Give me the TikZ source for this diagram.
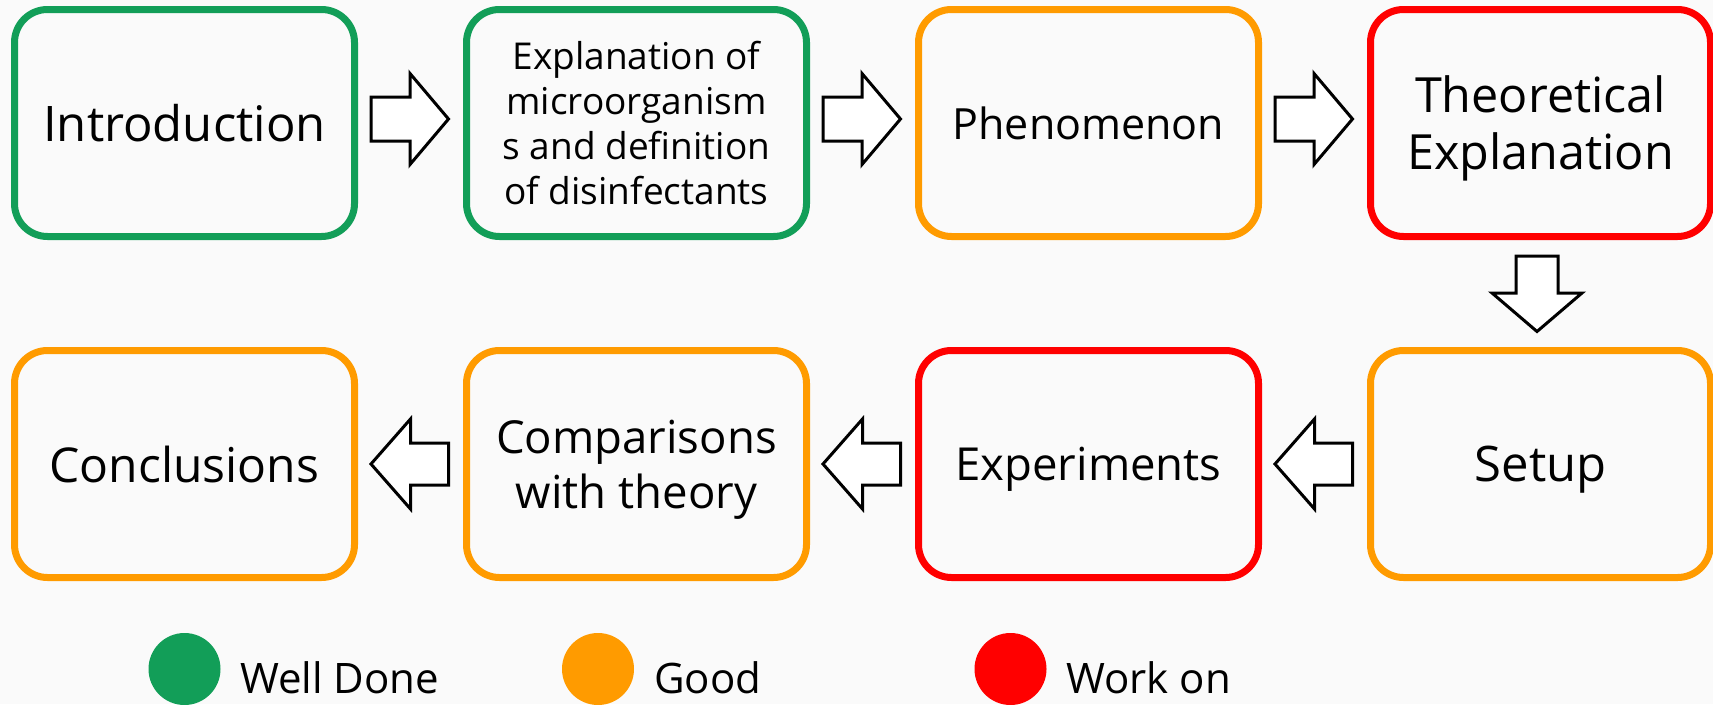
\documentclass[tikz,border=0pt]{standalone}
\usepackage{fontspec}
\setmainfont{Open Sans}
\definecolor{cgreen}{RGB}{18,158,88}
\definecolor{corange}{RGB}{255,155,0}
\definecolor{cred}{RGB}{255,0,0}
\definecolor{bgc}{RGB}{250,250,250}
\begin{document}
\begin{tikzpicture}[x=1pt,y=-1pt,
  stage/.style={draw, line width=7pt, rounded corners=33pt, minimum width=340pt,
    minimum height=227pt, align=center, inner sep=0pt, outer sep=0pt, text=black},
  flowarrow/.style={draw=black, line width=3pt, fill=white, line join=miter},
  legdot/.style={circle, minimum size=72pt, inner sep=0pt},
  legtext/.style={anchor=base west, inner sep=0pt, font=\fontsize{42}{50}\selectfont}]
\fill[bgc] (0,0) rectangle (1713,704);
\useasboundingbox (0,0) rectangle (1713,704);

% row 1
\node[stage, draw=cgreen, font=\fontsize{49}{57}\selectfont] (intro) at (184.5,123) {Introduction};
\node[stage, draw=cgreen, font=\fontsize{37}{45}\selectfont] (expl) at (636.5,123) {Explanation of\\microorganism\\s and definition\\of disinfectants};
\node[stage, draw=corange, font=\fontsize{43}{50}\selectfont] (phen) at (1088.5,123) {Phenomenon};
\node[stage, draw=cred, font=\fontsize{48.5}{57}\selectfont] (theo) at (1540.5,123) {Theoretical\\\smash{Explanation}};

% row 2
\node[stage, draw=corange, font=\fontsize{48}{57}\selectfont] (concl) at (184.5,464) {Conclusions};
\node[stage, draw=corange, font=\fontsize{45.5}{55}\selectfont] (comp) at (636.5,464) {Comparisons\\\smash{with theory}};
\node[stage, draw=cred, text depth=0pt, font=\fontsize{45.5}{52}\selectfont] (exper) at (1088.5,464) {Experiments};
\node[stage, draw=corange, text depth=0pt, font=\fontsize{49}{57}\selectfont] (setup) at (1540.5,464) {Setup};

% right arrows
\foreach \a in {intro,expl,phen}{
  \begin{scope}[shift={(\a.east)}]
    \draw[flowarrow] (16.5,-26)--(55.5,-26)--(55.5,-49.5)--(94,-4)--(55.5,41.5)--(55.5,18)--(16.5,18)--cycle;
  \end{scope}
}
% down arrow
\begin{scope}[shift={(theo.south)}]
  \draw[flowarrow] (-24.5,19.5)--(17.5,19.5)--(17.5,56.5)--(41.5,56.5)--(-3.5,95)--(-48.5,56.5)--(-24.5,56.5)--cycle;
\end{scope}
% left arrows
\foreach \a in {comp,exper,setup}{
  \begin{scope}[shift={(\a.west)}]
    \draw[flowarrow] (-18,-21)--(-56,-21)--(-56,-45)--(-95.5,0)--(-56,45)--(-56,21)--(-18,21)--cycle;
  \end{scope}
}

% legend
\node[legdot, fill=cgreen] (l1) at (184.5,669) {};
\node[legtext] (t1) at (240,693) {Well Done};
\node[legdot, fill=corange] (l2) at (598,669) {};
\node[legtext] (t2) at (654,693) {Good};
\node[legdot, fill=cred] (l3) at (1010.5,669) {};
\node[legtext] (t3) at (1066,693) {Work on};
\end{tikzpicture}
\end{document}
